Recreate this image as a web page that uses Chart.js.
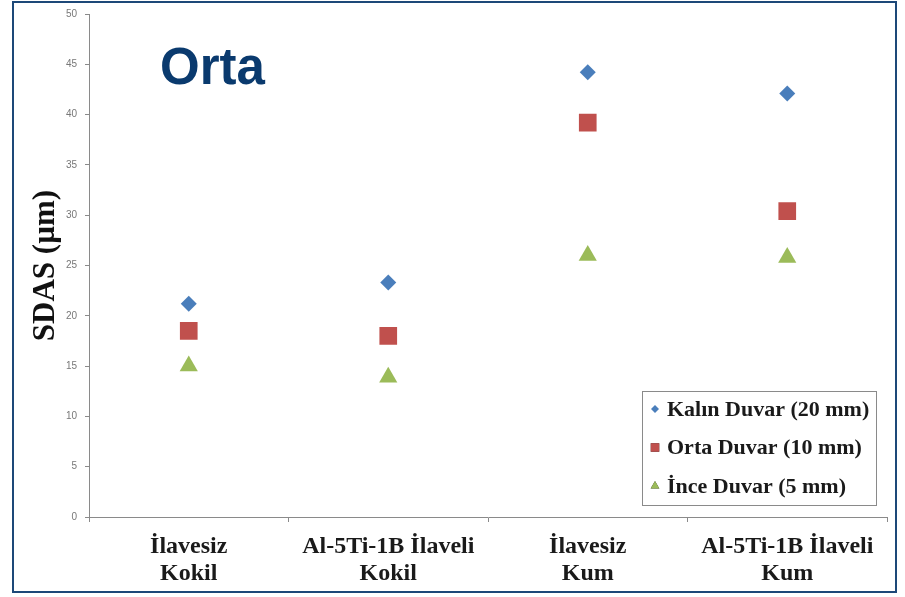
<!DOCTYPE html>
<html>
<head>
<meta charset="utf-8">
<script src="https://cdn.jsdelivr.net/npm/chart.js@4.4.1/dist/chart.umd.min.js"></script>
<style>
  body { margin: 0; background: #fff; }
  #wrap { position: relative; width: 905px; height: 597px; }
  #frame { position: absolute; left: 12px; top: 1px; width: 881px; height: 588px; border: 2px solid #1d4878; pointer-events: none; }
</style>
</head>
<body>
<div id="wrap">
  <canvas id="chart" width="905" height="597"></canvas>
  <div id="frame"></div>
</div>
<script>
// ===== DATA =====
const categories = [
  ["İlavesiz", "Kokil"],
  ["Al-5Ti-1B İlaveli", "Kokil"],
  ["İlavesiz", "Kum"],
  ["Al-5Ti-1B İlaveli", "Kum"]
];
const seriesNames = ["Kalın Duvar (20 mm)", "Orta Duvar (10 mm)", "İnce Duvar (5 mm)"];
const kalinDuvar = [21.2, 23.3, 44.2, 42.1];
const ortaDuvar = [18.5, 18.0, 39.2, 30.4];
const inceDuvar = [15.0, 13.9, 26.0, 25.8];
const yMin = 0, yMax = 50, yStep = 5;
const chartTitle = "Orta";
const yTitle = "SDAS (µm)";

const colors = ["#4a7ebb", "#c0504d", "#9bbb59"];
const shapes = ["rectRot", "rect", "triangle"];
const radii = [8, 12.5, 10.5];
const legendRadii = [4, 6, 5];

// ===== OVERLAY: title + legend box =====
const overlay = {
  id: "overlay",
  afterDraw(chart) {
    const ctx = chart.ctx;
    const area = chart.chartArea;
    ctx.save();

    // big title
    ctx.fillStyle = "#0a3a6e";
    ctx.font = "bold 51px 'Liberation Sans', Arial, sans-serif";
    ctx.textBaseline = "alphabetic";
    ctx.textAlign = "left";
    ctx.fillText(chartTitle, area.left + 71, area.top + 70);

    // legend box
    const w = 234, h = 114;
    const x = area.right - 11 - w, y = area.bottom - 12 - h;
    ctx.fillStyle = "#fff";
    ctx.fillRect(x, y, w, h);
    ctx.strokeStyle = "#8a8a8a";
    ctx.lineWidth = 1;
    ctx.strokeRect(x + 0.5, y + 0.5, w, h);

    ctx.font = "bold 22px 'Liberation Serif', 'Times New Roman', serif";
    ctx.textBaseline = "middle";
    seriesNames.forEach((name, i) => {
      const cy = y + 18 + i * 38.5;
      Chart.helpers.drawPoint(ctx, {
        pointStyle: shapes[i], radius: legendRadii[i], rotation: 0,
        borderWidth: 0
      }, x + 13, cy);
      ctx.fillStyle = colors[i];
      ctx.fill();
      ctx.fillStyle = "#1a1a1a";
      ctx.fillText(name, x + 25, cy + 1);
    });
    ctx.restore();
  }
};

// ===== CHART =====
const seriesData = [kalinDuvar, ortaDuvar, inceDuvar];

new Chart(document.getElementById("chart"), {
  type: "line",
  data: {
    labels: categories,
    datasets: seriesData.map((d, i) => ({
      label: seriesNames[i],
      data: d,
      showLine: false,
      pointStyle: shapes[i],
      pointRadius: radii[i],
      pointBackgroundColor: colors[i],
      pointBorderColor: colors[i],
      pointBorderWidth: 0
    }))
  },
  options: {
    responsive: false,
    animation: false,
    layout: { padding: { left: 0, right: 18, top: 14, bottom: 0 } },
    plugins: {
      legend: { display: false },
      tooltip: { enabled: false }
    },
    scales: {
      x: {
        type: "category",
        offset: true,
        grid: { offset: true, drawOnChartArea: false, tickLength: 5, color: "#8a8a8a" },
        border: { color: "#8a8a8a" },
        ticks: {
          color: "#1a1a1a",
          padding: 12,
          maxRotation: 0,
          font: { family: "'Liberation Serif', 'Times New Roman', serif", size: 24, weight: "bold", lineHeight: 1.1 }
        },
        afterFit(scale) { scale.height = 80; }
      },
      y: {
        min: yMin,
        max: yMax,
        grid: { drawOnChartArea: false, tickLength: 4, color: "#8a8a8a" },
        border: { color: "#8a8a8a" },
        ticks: {
          stepSize: yStep,
          color: "#777",
          padding: 8,
          font: { family: "'Liberation Sans', Arial, sans-serif", size: 10 }
        },
        title: {
          display: true,
          text: yTitle,
          color: "#111",
          padding: { top: 27, bottom: 0 },
          font: { family: "'Liberation Serif', 'Times New Roman', serif", size: 31, weight: "bold" }
        },
        afterFit(scale) { scale.width = 89; }
      }
    }
  },
  plugins: [overlay]
});
</script>
</body>
</html>
